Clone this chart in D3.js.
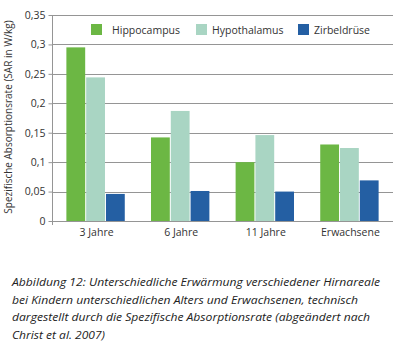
<!DOCTYPE html>
<html><head><meta charset="utf-8">
<script src="https://cdn.jsdelivr.net/npm/d3@7"></script>
<style>body{margin:0;background:#fff}svg{display:block}</style>
</head><body>
<svg id="c" width="400" height="360"></svg>
<script>
const categories = ["3 Jahre", "6 Jahre", "11 Jahre", "Erwachsene"];
const seriesNames = ["Hippocampus", "Hypothalamus", "Zirbeldrüse"];
const hippocampus = [0.295, 0.142, 0.100, 0.130];
const hypothalamus = [0.244, 0.187, 0.146, 0.124];
const zirbeldruese = [0.046, 0.051, 0.050, 0.069];
const yTicks = [0, 0.05, 0.1, 0.15, 0.2, 0.25, 0.3, 0.35];
const colors = ["#6cb744", "#a9d5c3", "#245fa3"];
const captionLines = [
  "Abbildung 12: Unterschiedliche Erwärmung verschiedener Hirnareale",
  "bei Kindern unterschiedlichen Alters und Erwachsenen, technisch",
  "dargestellt durch die Spezifische Absorptionsrate (abgeändert nach",
  "Christ et al. 2007)"
];
const captionWidths = [368, 346, 358, 93];
const series = [hippocampus, hypothalamus, zirbeldruese];

const svg = d3.select("#c");
const font = "'Open Sans', sans-serif";
const x0 = 52, x1 = 393, yTop = 15, yBot = 221;

const y = d3.scaleLinear().domain([0, 0.35]).range([yBot, yTop]);
const x = d3.scaleBand().domain(categories).range([x0, x1]).paddingInner(0.31).paddingOuter(0.17);
const xs = d3.scaleBand().domain(seriesNames).range([0, x.bandwidth()]).paddingInner(0.05);

// grid
svg.append("g").selectAll("line").data(yTicks).join("line")
  .attr("x1", x0).attr("x2", x1)
  .attr("y1", d => Math.round(y(d)) + 0.5).attr("y2", d => Math.round(y(d)) + 0.5)
  .attr("stroke", "#959595").attr("stroke-width", 1);

// y axis
const yAxis = d3.axisLeft(y).tickValues(yTicks).tickSize(4).tickPadding(3)
  .tickFormat(d => d === 0 ? "0" : String(+d.toFixed(2)).replace(".", ","));
const ga = svg.append("g").attr("transform", `translate(${x0 + 0.5},0)`).call(yAxis);
ga.select(".domain").attr("stroke", "#959595").attr("d", `M0,${yTop}V${yBot + 4}`);
ga.selectAll(".tick line").attr("stroke", "#959595");
ga.selectAll(".tick text").attr("font-family", font).attr("font-size", 10.5).attr("fill", "#333");

// bars
const g = svg.append("g");
categories.forEach((c, i) => {
  seriesNames.forEach((s, j) => {
    const v = series[j][i];
    g.append("rect")
      .attr("x", x(c) + xs(s))
      .attr("y", y(v))
      .attr("width", xs.bandwidth())
      .attr("height", y(0) - y(v))
      .attr("fill", colors[j]);
  });
});

// x labels
svg.append("g").selectAll("text").data(categories).join("text")
  .attr("x", d => x(d) + x.bandwidth() / 2 + 1)
  .attr("y", 236)
  .attr("text-anchor", "middle")
  .attr("font-family", font).attr("font-size", 10.5).attr("fill", "#333")
  .text(d => d);

// y label
svg.append("text")
  .attr("transform", "translate(12,117) rotate(-90)")
  .attr("text-anchor", "middle")
  .attr("font-family", font).attr("font-size", 10).attr("fill", "#333")
  .text("Spezifische Absorptionsrate (SAR in W/kg)");

// legend
const legX = [91, 196, 298];
const leg = svg.append("g");
seriesNames.forEach((s, j) => {
  leg.append("rect").attr("x", legX[j]).attr("y", 24).attr("width", 11).attr("height", 11).attr("fill", colors[j]);
  leg.append("text").attr("x", legX[j] + 21 - (j === 0 ? 0 : 5)).attr("y", 34)
    .attr("font-family", font).attr("font-size", 10.5).attr("fill", "#333").text(s);
});

// caption
svg.append("g").selectAll("text").data(captionLines).join("text")
  .attr("x", 12)
  .attr("y", (d, i) => 286 + i * 17.7)
  .attr("font-family", "'Open Sans', sans-serif").attr("font-style", "italic")
  .attr("font-size", 11.5).attr("fill", "#222")
  .attr("textLength", (d, i) => captionWidths[i])
  .attr("lengthAdjust", "spacingAndGlyphs")
  .text(d => d);
</script>
</body></html>
